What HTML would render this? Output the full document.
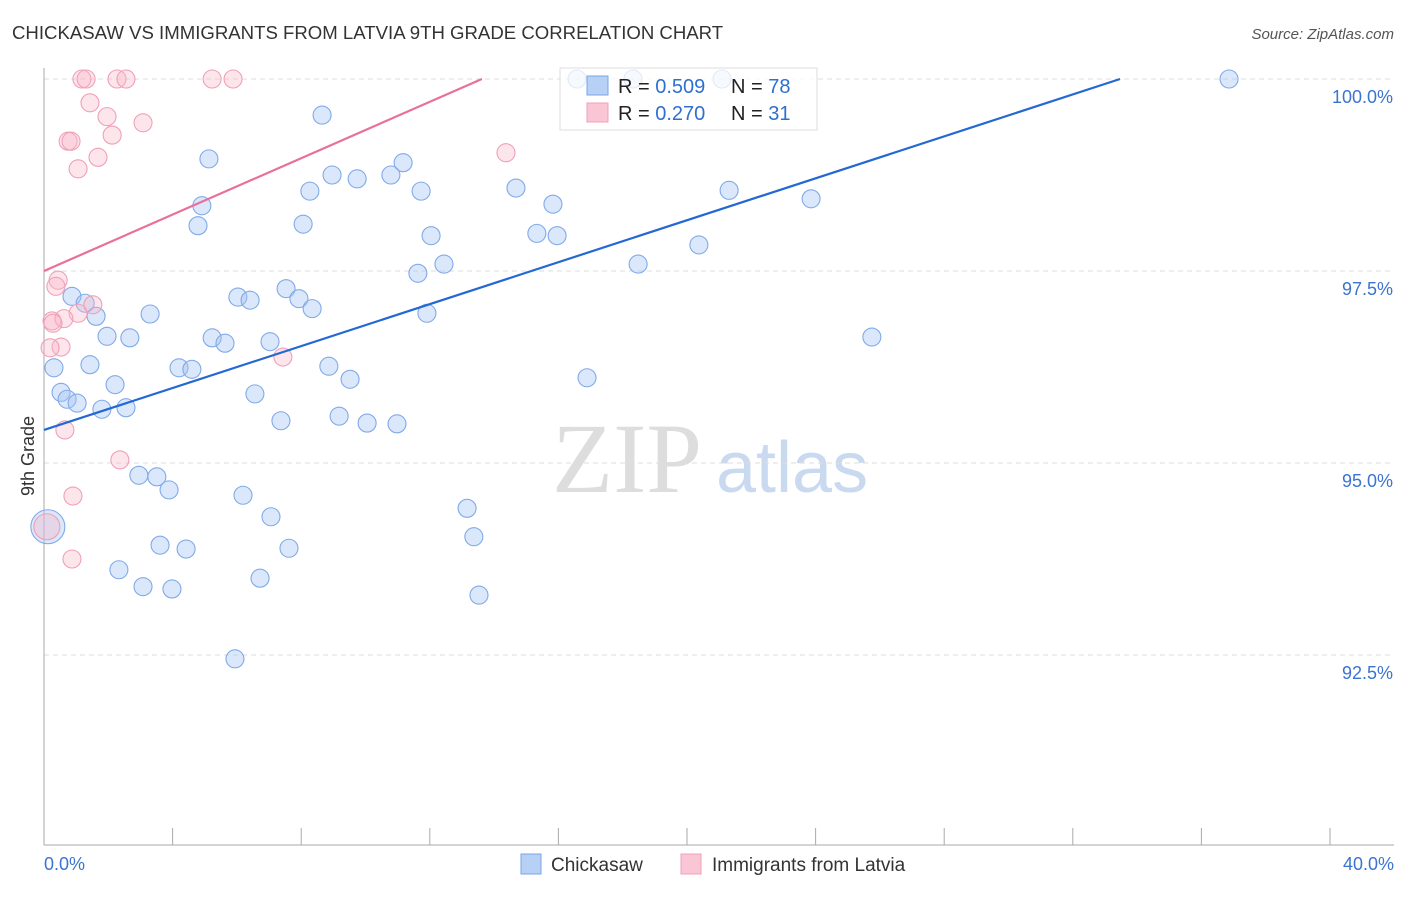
<!DOCTYPE html>
<html><head><meta charset="utf-8"><style>
body{margin:0;background:#fff;font-family:"Liberation Sans",sans-serif;}
</style></head><body>
<svg id="chart" width="1406" height="892" viewBox="0 0 1406 892" font-family="Liberation Sans, sans-serif">
<text x="12" y="39" font-size="18.6" fill="#333">CHICKASAW VS IMMIGRANTS FROM LATVIA 9TH GRADE CORRELATION CHART</text>
<text x="1394" y="39" font-size="15" fill="#555" font-style="italic" text-anchor="end">Source: ZipAtlas.com</text>
<g>
<text x="552" y="492" font-size="100" fill="#ddd" style="font-family:'Liberation Serif',serif">ZIP</text>
<text x="716" y="492" font-size="72" fill="#c9daf0">atlas</text>
</g>
<g id="grid"></g>
<g id="axes"></g>
<text x="34" y="456" font-size="18" fill="#333" transform="rotate(-90 34 456)" text-anchor="middle">9th Grade</text>
<g id="pts"></g>
<g id="lines"></g>
<g>
<rect x="560" y="68" width="257" height="62" fill="rgba(255,255,255,0.75)" stroke="#ddd"/>
<rect x="587" y="76" width="21" height="19" fill="#b7d0f5" stroke="#7aa6e8"/>
<rect x="587" y="103" width="21" height="19" fill="#fac6d5" stroke="#f0a0b8"/>
<text x="618" y="93" font-size="20" fill="#222">R = <tspan fill="#2f6fd0">0.509</tspan></text>
<text x="731" y="93" font-size="20" fill="#222">N = <tspan fill="#2f6fd0">78</tspan></text>
<text x="618" y="120" font-size="20" fill="#222">R = <tspan fill="#2f6fd0">0.270</tspan></text>
<text x="731" y="120" font-size="20" fill="#222">N = <tspan fill="#2f6fd0"> 31</tspan></text>
</g>
<g>
<rect x="521" y="854" width="20" height="20" fill="#b7d0f5" stroke="#7aa6e8"/>
<text x="551" y="871" font-size="19" fill="#333">Chickasaw</text>
<rect x="681" y="854" width="20" height="20" fill="#fac6d5" stroke="#f0a0b8"/>
<text x="712" y="871" font-size="19" fill="#333">Immigrants from Latvia</text>
</g>
</svg>
<script>
const xTickLabels=["0.0%","40.0%"];
const yTicks=[100,97.5,95,92.5];
const yTickLabels=["100.0%","97.5%","95.0%","92.5%"];
const blueX=[16.58,18.32,21.09,36.86,8.65,5.13,11.17,8.96,9.74,10.79,8.27,11.73,14.68,21.31,15.83,23.86,4.91,4.79,8.06,12.04,15.33,15.96,20.37,11.63,12.44,18.48,0.87,1.28,6.03,6.41,7.53,7.93,8.34,1.62,3.30,11.91,1.96,2.67,5.23,5.63,7.03,25.75,0.31,1.43,4.20,4.60,8.86,9.52,16.89,2.21,0.53,0.72,1.03,1.80,2.55,6.56,7.37,9.18,10.05,10.98,2.95,3.51,3.89,6.19,13.16,7.06,13.37,3.61,4.42,7.62,2.33,6.72,3.08,3.98,13.53,5.94,0.12];
const blueY=[100,100,100,100,99.53,98.96,98.91,98.75,98.70,98.75,98.54,98.54,98.58,98.55,98.37,98.44,98.35,98.09,98.11,97.96,97.99,97.96,97.84,97.47,97.59,97.59,97.17,97.08,97.16,97.12,97.27,97.14,97.01,96.91,96.94,96.95,96.65,96.63,96.63,96.56,96.58,96.64,96.24,96.28,96.24,96.22,96.26,96.09,96.11,96.02,95.92,95.83,95.78,95.70,95.72,95.90,95.55,95.61,95.52,95.51,94.84,94.82,94.65,94.58,94.41,94.30,94.04,93.93,93.88,93.89,93.61,93.50,93.39,93.36,93.28,92.45,94.17];
const pinkX=[1.18,1.31,2.27,2.55,5.23,5.88,1.43,1.96,3.08,2.12,0.75,0.84,1.68,1.06,14.37,0.44,0.37,1.52,1.06,0.25,0.62,0.28,0.53,0.19,7.43,0.65,2.36,0.90,0.87,0.09];
const pinkY=[100,100,100,100,100,100,99.69,99.51,99.43,99.27,99.19,99.19,98.98,98.83,99.04,97.38,97.30,97.06,96.95,96.85,96.88,96.82,96.51,96.50,96.38,95.43,95.04,94.57,93.75,94.17];
const blueLine=[[0,95.43],[33.47,100]];
const pinkLine=[[0,97.5],[13.62,100]];
const NS='http://www.w3.org/2000/svg';
const X0=44,X1=1330,Y0=79,PER=76.8;
const sx=v=>X0+(X1-X0)*v/40;
const sy=v=>Y0+(100-v)*PER;
function mk(t,a,p){const e=document.createElementNS(NS,t);for(const k in a)e.setAttribute(k,a[k]);p.appendChild(e);return e;}
const grid=document.getElementById('grid'),axes=document.getElementById('axes');
yTicks.forEach((t,i)=>{
 const l=mk('line',{x1:X0,x2:1394,y1:sy(t),y2:sy(t),stroke:'#ddd','stroke-dasharray':'5,4'},grid);
 
 
 const tx=mk('text',{x:1393,y:sy(t)+24,'font-size':18,fill:'#3b74d0','text-anchor':'end'},axes);
 tx.textContent=yTickLabels[i];
 
 
});
const ya=mk('line',{x1:X0,x2:X0,y1:68,y2:845,stroke:'#aaa'},axes);


const xa=mk('line',{x1:X0,x2:1394,y1:845,y2:845,stroke:'#aaa'},axes);


for(let i=0;i<=10;i++){
 const tk=mk('line',{x1:sx(i*4),x2:sx(i*4),y1:828,y2:845,stroke:'#aaa'},axes);
 
 
}
[[0,'start',44],[40,'end',1394]].forEach((d,i)=>{
 const tx=mk('text',{x:d[2],y:870,'font-size':18,fill:'#3b74d0','text-anchor':d[1]},axes);
 tx.textContent=xTickLabels[i];
 
 
});
const pts=document.getElementById('pts');
blueX.forEach((v,i)=>{
 const c=mk('circle',{cx:sx(v),cy:sy(blueY[i]),r:i===blueX.length-1?17:9,fill:'rgba(164,196,244,0.4)',stroke:'#80aae8','stroke-width':1.1},pts);
 
 
});
pinkX.forEach((v,i)=>{
 const c=mk('circle',{cx:sx(v),cy:sy(pinkY[i]),r:i===pinkX.length-1?13:9,fill:'rgba(248,180,200,0.35)',stroke:'#f0a0b8','stroke-width':1.1},pts);
 
 
});
const lg=document.getElementById('lines');
const bl=mk('line',{x1:sx(blueLine[0][0]),y1:sy(blueLine[0][1]),x2:sx(blueLine[1][0]),y2:sy(blueLine[1][1]),stroke:'#2468d4','stroke-width':2.2},lg);


const pl=mk('line',{x1:sx(pinkLine[0][0]),y1:sy(pinkLine[0][1]),x2:sx(pinkLine[1][0]),y2:sy(pinkLine[1][1]),stroke:'#e8709a','stroke-width':2.2},lg);


</script>
</body></html>
